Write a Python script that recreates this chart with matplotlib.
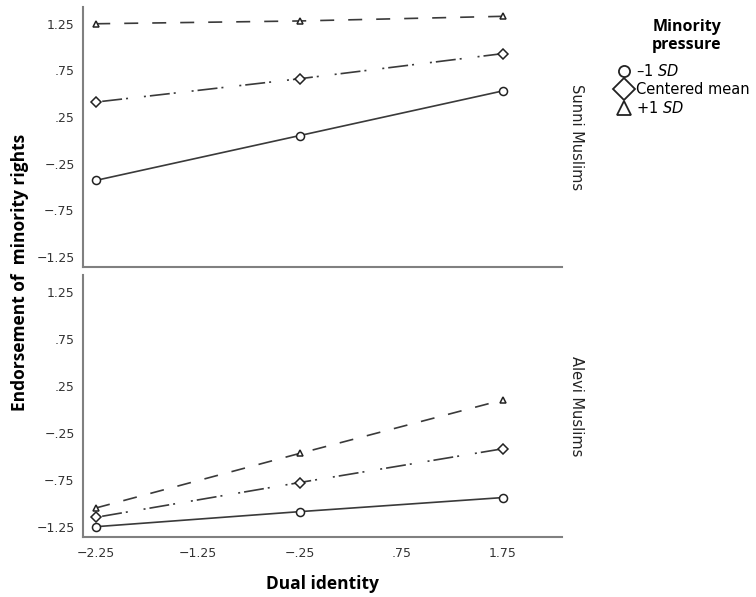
import matplotlib
matplotlib.use("Agg")
import matplotlib.pyplot as plt
from matplotlib.lines import Line2D

plt.rcParams['font.family'] = ['DejaVu Sans']
plt.rcParams['mathtext.fontset'] = 'dejavusans'

# data
dual_identity = [-2.25, -0.25, 1.75]
groups = ["Sunni Muslims", "Alevi Muslims"]
sunni_low = [-0.43, 0.05, 0.53]
sunni_mean = [0.41, 0.66, 0.93]
sunni_high = [1.25, 1.28, 1.33]
alevi_low = [-1.25, -1.09, -0.94]
alevi_mean = [-1.15, -0.78, -0.42]
alevi_high = [-1.05, -0.47, 0.10]
level_labels = ["\u20131 $\\mathit{SD}$", "Centered mean", "+1 $\\mathit{SD}$"]
yticks = [1.25, 0.75, 0.25, -0.25, -0.75, -1.25]
xticks = [-2.25, -1.25, -0.25, 0.75, 1.75]


def fmt(v):
    s = ("%.2f" % abs(v))
    if s.startswith("0"):
        s = s[1:]
    return ("\u2212" if v < 0 else "") + s


styles = [
    dict(ls='-', marker='o', ms=5.8, lms=8),
    dict(ls=(0, (1.2, 2.4, 12, 2.4, 1.2, 9.6)), marker='D', ms=5.0, lms=11),
    dict(ls=(0, (8.4, 8.4)), marker='^', ms=4.5, lms=9.5),
]

fig = plt.figure(figsize=(7.56, 5.97), dpi=100)
ax_top = fig.add_axes([0.1098, 0.5528, 0.6336, 0.4355])
ax_bot = fig.add_axes([0.1098, 0.1005, 0.6336, 0.4389])

panels = [
    (ax_top, [sunni_low, sunni_mean, sunni_high], groups[0]),
    (ax_bot, [alevi_low, alevi_mean, alevi_high], groups[1]),
]

for ax, series, name in panels:
    for vals, st in zip(series, styles):
        ax.plot(dual_identity, vals, color='#3a3a3a', lw=1.2, ls=st['ls'],
                marker=st['marker'], ms=st['ms'], mfc='white', mec='#222222',
                mew=1.1, dash_capstyle='butt')
    ax.set_xlim(-2.38, 2.33)
    ax.set_ylim(-1.36, 1.43)
    ax.set_yticks(yticks)
    ax.set_yticklabels([fmt(v) for v in yticks], fontsize=9, color='#333333')
    ax.tick_params(axis='y', length=0, pad=6)
    for sp in ['top', 'right']:
        ax.spines[sp].set_visible(False)
    for sp in ['left', 'bottom']:
        ax.spines[sp].set_color('#808080')
        ax.spines[sp].set_linewidth(1.5)
    ax.text(1.03, 0.5, name, transform=ax.transAxes, rotation=270,
            ha='center', va='center', fontsize=10.5, color='#222222')

ax_top.set_xticks([])
ax_bot.set_xticks(xticks)
ax_bot.set_xticklabels([fmt(v) for v in xticks], fontsize=9, color='#333333')
ax_bot.tick_params(axis='x', length=0, pad=7)

ax_bot.set_xlabel("Dual identity", fontsize=12.5, fontweight='bold',
                  family='Open Sans', labelpad=11)
fig.text(0.027, 0.544, "Endorsement of  minority rights", rotation=90,
         ha='center', va='center', fontsize=12.5, fontweight='bold',
         family='Open Sans')

# legend title drawn separately so the gap to the entries can match
fig.text(0.9087, 0.9397, "Minority\npressure", ha='center', va='center',
         fontsize=11.5, fontweight='bold', family='Open Sans',
         linespacing=1.17)

handles = [Line2D([], [], ls='none', marker=st['marker'], ms=st['lms'],
                  mfc='white', mec='#222222', mew=1.3) for st in styles]
leg = fig.legend(handles, level_labels, loc='upper left',
                 bbox_to_anchor=(0.799, 0.916), frameon=False, fontsize=10.5,
                 handletextpad=0.3, labelspacing=0.2, handlelength=1.0)

fig.savefig("out.png", dpi=100)
